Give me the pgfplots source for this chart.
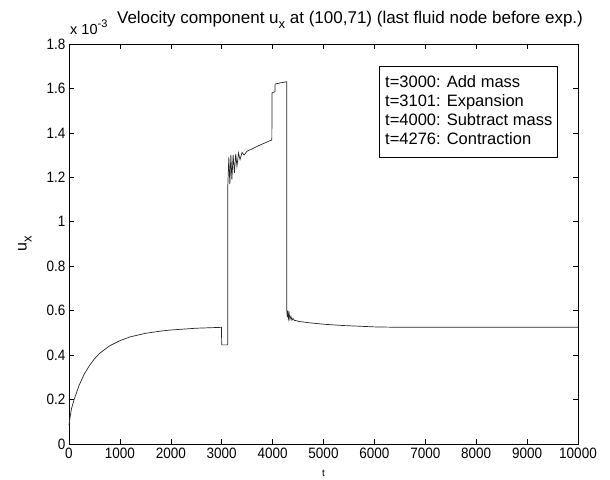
\documentclass[border=0pt]{standalone}
\usepackage{fontspec}
\setmainfont{Liberation Sans}
\newfontfamily\tickfont[FakeStretch=0.9]{Liberation Sans}
\usepackage{pgfplots}
\pgfplotsset{compat=1.18}
\begin{document}
\begin{tikzpicture}[x=1pt,y=1pt]
\path[use as bounding box] (-69,-35) rectangle (541,444);
\begin{axis}[at={(0,0)},anchor=south west,
  scale only axis, width=509pt, height=400pt,
  xmin=0,xmax=10000,ymin=0,ymax=1.8,
  xtick={0,1000,2000,3000,4000,5000,6000,7000,8000,9000,10000},
  ytick={0,0.2,0.4,0.6,0.8,1,1.2,1.4,1.6,1.8},
  yticklabels={0,0.2,0.4,0.6,0.8,1,1.2,1.4,1.6,1.8},
  scaled x ticks=false, scaled y ticks=false,
  xticklabel style={/pgf/number format/fixed,/pgf/number format/1000 sep={}},
  /pgf/number format/assume math mode=true,
  every tick label/.style={font=\tickfont\fontsize{15}{17}\selectfont, text=black},
  tick align=inside, major tick length=5pt,
  tick style={black, line width=0.6pt},
  axis line style={black, line width=0.6pt},
  xlabel={t},
  xlabel style={font=\fontsize{10}{11}\selectfont, at={(axis description cs:0.5,-0.0725)}, anchor=center},
  ylabel={u\raisebox{-5pt}{\fontsize{13}{13}\selectfont x}},
  ylabel style={font=\fontsize{16}{18}\selectfont, at={(axis description cs:-0.0864,0.5)}, anchor=center, rotate=0},
  clip=false,
]
\addplot[black!85, line width=0.7pt] coordinates {
(0,0.085) (20,0.12) (50,0.16) (100,0.2) (200,0.265) (300,0.315) (400,0.352)
(500,0.383) (600,0.408) (800,0.442) (1000,0.465) (1200,0.482) (1500,0.498)
(1800,0.508) (2000,0.513) (2500,0.521) (2995,0.525)
(3000,0.446) (3117,0.446)
(3118,1.15) (3140,1.29) (3160,1.17) (3180,1.30) (3200,1.19) (3225,1.30)
(3250,1.22) (3275,1.305) (3300,1.25) (3330,1.31) (3360,1.28) (3400,1.312)
(3440,1.30) (3500,1.318) (3600,1.328) (3700,1.340) (3800,1.350) (3900,1.360) (3985,1.368)
(3990,1.58) (4045,1.585) (4050,1.62) (4150,1.625) (4276,1.63)
(4277,0.605) (4290,0.57) (4300,0.60) (4312,0.565) (4325,0.588) (4340,0.56)
(4360,0.575) (4380,0.557) (4400,0.565) (4430,0.556) (4470,0.555) (4500,0.552)
(4700,0.546) (5000,0.539) (5400,0.533) (6000,0.527) (6500,0.525) (10000,0.525)
};
\end{axis}
\node[anchor=base, font=\fontsize{17}{19}\selectfont] at (281,420)
  {Velocity component u\raisebox{-5pt}{\fontsize{13}{13}\selectfont x} at (100,71) (last fluid node before exp.)};
\node[anchor=base west, font=\fontsize{14.5}{16}\selectfont, inner sep=0pt] at (1,409.6) {x 10\raisebox{7pt}{\fontsize{11}{11}\selectfont -3}};
\draw[black, line width=0.6pt, fill=white] (310,287) rectangle (488,378);
\begin{scope}[every node/.style={anchor=base west, inner sep=0pt, font=\fontsize{16.5}{18}\selectfont}]
\node at (316,356) {t=3000: Add mass};
\node at (316,337) {t=3101: Expansion};
\node at (316,318) {t=4000: Subtract mass};
\node at (316,299) {t=4276: Contraction};
\end{scope}
\end{tikzpicture}
\end{document}
